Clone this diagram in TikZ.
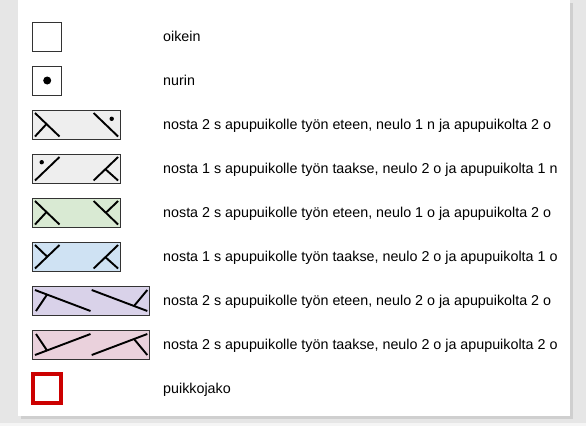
\documentclass[tikz,border=0pt]{standalone}
\usepackage{fontspec}
\setmainfont{Liberation Sans}
\definecolor{bggray}{HTML}{E6E6E6}
\definecolor{shadow}{HTML}{CFCFCF}
\definecolor{lgray}{HTML}{EEEEEE}
\definecolor{lgreen}{HTML}{D9EAD3}
\definecolor{lblue}{HTML}{CFE2F3}
\definecolor{lpurple}{HTML}{D9D2E9}
\definecolor{lpink}{HTML}{EAD1DC}
\definecolor{border}{HTML}{333333}
\definecolor{puikko}{HTML}{CC0000}
\tikzset{
  box/.style={draw=border, line width=1pt},
  sym/.style={draw=black, line width=1.9pt},
  lbl/.style={anchor=base west, inner sep=0pt, font=\fontsize{14.3}{16}\selectfont},
}
\begin{document}
\begin{tikzpicture}[x=1pt,y=-1pt]
\useasboundingbox (0,0) rectangle (586,426);
\fill[bggray] (0,0) rectangle (586,426);
\fill[white!60!bggray] (0,423) rectangle (586,426);
\fill[shadow] (21,3) rectangle (573,419);
\fill[white] (18,0) rectangle (570,416);
% row 1
\draw[box, fill=white] (32.5,22) rectangle (61.8,51);
\node[lbl] (t1) at (163,41.7) {oikein};
% row 2
\draw[box, fill=white] (32.5,66) rectangle (61.8,95);
\fill[black] (47.2,80.5) circle (4);
\node[lbl] (t2) at (163,85.7) {nurin};
% row 3
\begin{scope}[shift={(32.5,110)}]
\draw[box, fill=lgray] (0,0) rectangle (87.9,29);
\draw[sym] (2.5,3) -- (27,26.5);
\draw[sym] (2.5,26.5) -- (14,14);
\draw[sym] (61.1,3) -- (85.6,26.5);
\fill (79.2,8.8) circle (2.2);
\end{scope}
\node[lbl] (t3) at (163,129.7) {nosta 2 s apupuikolle työn eteen, neulo 1 n ja apupuikolta 2 o};
% row 4
\begin{scope}[shift={(32.5,154)}]
\draw[box, fill=lgray] (0,0) rectangle (87.9,29);
\draw[sym] (2.5,26.5) -- (27,3);
\fill (9.2,8.2) circle (2.2);
\draw[sym] (61.1,26.5) -- (85.6,3);
\draw[sym] (72.9,15.2) -- (85.6,26.5);
\end{scope}
\node[lbl] (t4) at (163,173.7) {nosta 1 s apupuikolle työn taakse, neulo 2 o ja apupuikolta 1 n};
% row 5
\begin{scope}[shift={(32.5,198)}]
\draw[box, fill=lgreen] (0,0) rectangle (87.9,29);
\draw[sym] (2.5,3) -- (27,26.5);
\draw[sym] (2.5,26.5) -- (14,14);
\draw[sym] (61.1,3) -- (85.6,26.5);
\draw[sym] (85.6,3) -- (73.4,14.7);
\end{scope}
\node[lbl] (t5) at (163,217.7) {nosta 2 s apupuikolle työn eteen, neulo 1 o ja apupuikolta 2 o};
% row 6
\begin{scope}[shift={(32.5,242)}]
\draw[box, fill=lblue] (0,0) rectangle (87.9,29);
\draw[sym] (2.5,26.5) -- (27,3);
\draw[sym] (2.5,3) -- (14.7,14.7);
\draw[sym] (61.1,26.5) -- (85.6,3);
\draw[sym] (72.9,15.2) -- (85.6,26.5);
\end{scope}
\node[lbl] (t6) at (163,261.7) {nosta 1 s apupuikolle työn taakse, neulo 2 o ja apupuikolta 1 o};
% row 7
\begin{scope}[shift={(32.5,286)}]
\draw[box, fill=lpurple] (0,0) rectangle (117.2,29);
\draw[sym] (2.5,4) -- (58,25);
\draw[sym] (3.5,25) -- (14.7,8.3);
\draw[sym] (59.2,4) -- (114.8,25);
\draw[sym] (114.8,4) -- (101.5,20);
\end{scope}
\node[lbl] (t7) at (163,305.7) {nosta 2 s apupuikolle työn eteen, neulo 2 o ja apupuikolta 2 o};
% row 8
\begin{scope}[shift={(32.5,330)}]
\draw[box, fill=lpink] (0,0) rectangle (117.2,29);
\draw[sym] (2.5,25) -- (58,4);
\draw[sym] (3.5,4) -- (14.7,20.7);
\draw[sym] (59.2,25) -- (114.8,4);
\draw[sym] (101.5,9) -- (114.8,25);
\end{scope}
\node[lbl] (t8) at (163,349.7) {nosta 2 s apupuikolle työn taakse, neulo 2 o ja apupuikolta 2 o};
% row 9
\draw[draw=puikko, line width=4pt] (32.7,374.2) rectangle (61.3,402.8);
\node[lbl] (t9) at (163,393.7) {puikkojako};
\end{tikzpicture}
\end{document}
